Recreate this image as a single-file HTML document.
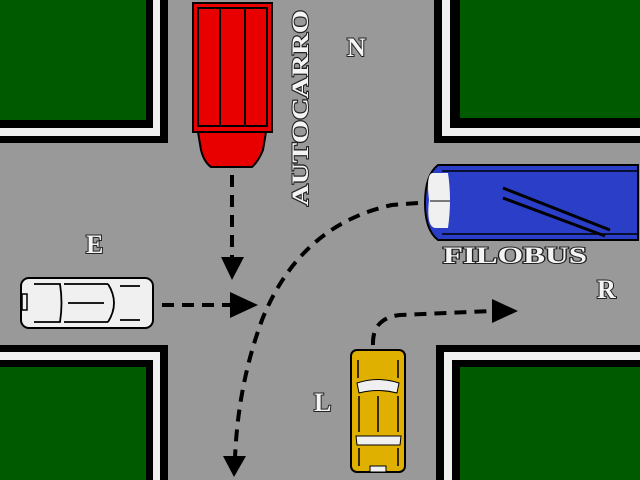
<!DOCTYPE html>
<html><head><meta charset="utf-8"><style>
html,body{margin:0;padding:0;background:#999}
svg{display:block}
.lbl{font-family:"Liberation Serif",serif;font-weight:bold;fill:#f4f4f4;stroke:#222;stroke-width:2;paint-order:stroke}
</style></head><body>
<svg width="640" height="480" viewBox="0 0 640 480" xmlns="http://www.w3.org/2000/svg">
<rect width="640" height="480" fill="#999999"/>
<g>
<rect x="0" y="0" width="168" height="143" fill="#000"/>
<rect x="0" y="0" width="160" height="136" fill="#f0f0f0"/>
<rect x="0" y="0" width="153" height="128" fill="#000"/>
<rect x="0" y="0" width="146" height="120" fill="#005a00"/>

<rect x="434" y="0" width="206" height="143" fill="#000"/>
<rect x="442" y="0" width="198" height="136" fill="#f0f0f0"/>
<rect x="450" y="0" width="190" height="128" fill="#000"/>
<rect x="460" y="0" width="180" height="118" fill="#005a00"/>

<rect x="0" y="345" width="168" height="135" fill="#000"/>
<rect x="0" y="352" width="160" height="128" fill="#f0f0f0"/>
<rect x="0" y="360" width="153" height="120" fill="#000"/>
<rect x="0" y="367" width="146" height="113" fill="#005a00"/>

<rect x="436" y="345" width="204" height="135" fill="#000"/>
<rect x="444" y="352" width="196" height="128" fill="#f0f0f0"/>
<rect x="452" y="360" width="188" height="120" fill="#000"/>
<rect x="460" y="367" width="180" height="113" fill="#005a00"/>
</g>
<!-- truck -->
<path d="M198 132 L266 132 L263 150 Q258 162 252 167 L211 167 Q204 162 201 150 Z" fill="#e80000" stroke="#000" stroke-width="2"/>
<rect x="193" y="3" width="79" height="129" fill="#e80000" stroke="#000" stroke-width="2"/>
<rect x="198" y="8" width="69" height="118" fill="none" stroke="#000" stroke-width="2"/>
<line x1="220" y1="8" x2="220" y2="126" stroke="#000" stroke-width="2"/>
<line x1="245" y1="8" x2="245" y2="126" stroke="#000" stroke-width="2"/>
<text class="lbl" x="0" y="0" font-size="23" transform="translate(308,206) rotate(-90)" textLength="196" lengthAdjust="spacingAndGlyphs">AUTOCARRO</text>
<!-- filobus -->
<path d="M438 165 L638 165 L638 240 L438 240 Q425 230 425 203 Q425 175 438 165 Z" fill="#2a3ec8" stroke="#000" stroke-width="2"/>
<line x1="442" y1="171" x2="637" y2="171" stroke="#000" stroke-width="1.5"/>
<line x1="442" y1="234" x2="637" y2="234" stroke="#000" stroke-width="1.5"/>
<path d="M432 173 Q426 175 429 200 Q426 228 436 228 L448 228 Q452 200 448 173 Z" fill="#f0f0f0"/>
<line x1="430" y1="201" x2="450" y2="201" stroke="#000" stroke-width="1"/>
<line x1="503" y1="188" x2="610" y2="230" stroke="#000" stroke-width="3"/>
<line x1="503" y1="198" x2="605" y2="236" stroke="#000" stroke-width="3"/>
<text class="lbl" x="443" y="263" font-size="23" textLength="144" lengthAdjust="spacingAndGlyphs">FILOBUS</text>
<!-- white car -->
<rect x="21" y="278" width="132" height="50" rx="8" fill="#f0f0f0" stroke="#000" stroke-width="2"/>
<rect x="22" y="294" width="5" height="16" fill="#f0f0f0" stroke="#000" stroke-width="1.5"/>
<path d="M34 284 L60 284 Q63 303 60 322 L34 322 M64 284 L108 284 M64 322 L108 322 M68 303 L104 303 M108 284 Q120 303 108 322 M120 286 L140 286 M120 320 L140 320" fill="none" stroke="#000" stroke-width="1.8"/>
<!-- yellow car -->
<rect x="351" y="350" width="54" height="122" rx="6" fill="#e0b000" stroke="#000" stroke-width="2"/>
<path d="M357 383 Q378 376 399 383 L397 393 Q378 388 359 393 Z" fill="#f0f0f0" stroke="#000" stroke-width="1"/>
<path d="M356 436 L401 436 L400 445 L357 445 Z" fill="#f0f0f0" stroke="#000" stroke-width="1"/>
<path d="M358 360 L358 378 M398 360 L398 378 M378 396 L378 432 M359 396 L359 432 M398 396 L398 432 M359 448 L359 466 M398 448 L398 466" stroke="#000" stroke-width="1.5"/>
<rect x="370" y="466" width="16" height="6" fill="#f0f0f0" stroke="#000" stroke-width="1"/>
<!-- arrows -->
<g stroke="#000" stroke-width="4" fill="none" stroke-dasharray="12,8">
<line x1="232" y1="175" x2="232" y2="260"/>
<line x1="162" y1="305" x2="232" y2="305"/>
<path d="M418 203 L392 205 Q300 225 262 320 Q238 385 235 458"/>
<path d="M373 345 Q372 318 400 315 L492 311"/>
</g>
<g fill="#000">
<polygon points="221,257 244,257 232,280"/>
<polygon points="230,292 230,318 258,305"/>
<polygon points="223,456 246,456 234,477"/>
<polygon points="492,299 492,323 518,311"/>
</g>
<text class="lbl" x="347" y="56" font-size="26">N</text>
<text class="lbl" x="86" y="253" font-size="26">E</text>
<text class="lbl" x="597" y="298" font-size="26">R</text>
<text class="lbl" x="314" y="411" font-size="26">L</text>
</svg>
</body></html>
